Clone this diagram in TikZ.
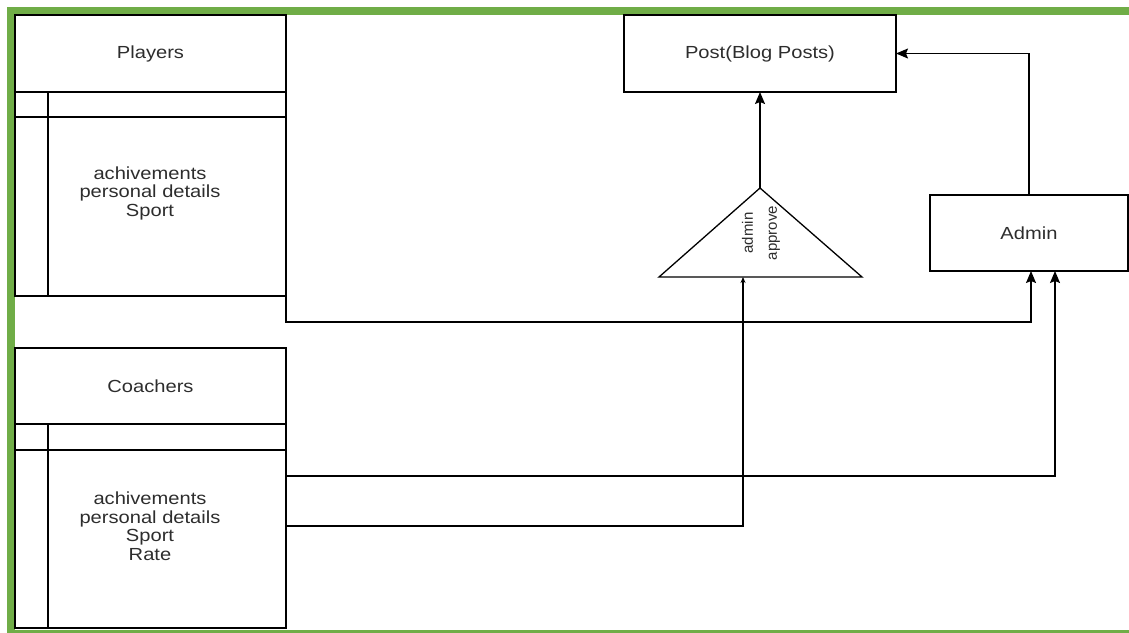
\documentclass[tikz,border=0pt]{standalone}
\usepackage{fontspec}
\setmainfont[FakeStretch=1.15]{Liberation Sans}
\newfontfamily\plainsans{Liberation Sans}
\usepackage{xcolor}
\usetikzlibrary{arrows.meta}
\usetikzlibrary{positioning}
\definecolor{frameGreen}{RGB}{112,173,71}
\definecolor{inkGray}{RGB}{45,45,45}
\tikzset{
    box/.style = {rectangle, draw=black, line width=1.3pt, anchor=north west, inner sep=0pt, outer sep=0pt, font=\fontsize{17.5}{18.5}\selectfont, text=inkGray},
    fields/.style = {align=center, inner sep=0pt, font=\fontsize{17.5}{18.5}\selectfont, text=inkGray},
    link/.style = {draw=black, line width=1.3pt, -{Stealth[length=12pt,width=10pt,inset=2pt]}},
    linksmall/.style = {draw=black, line width=1.3pt, -{Stealth[length=6pt,width=5pt]}},
}

\begin{document}
\begin{tikzpicture}[x=1pt, y=-1pt]
  \useasboundingbox (0,0) rectangle (1129,632);
  % green frame
  \draw[frameGreen, line width=8pt] (1140,11) -- (11,11) -- (11,640);
  \draw[frameGreen, line width=8pt] (11,634) -- (1140,634);

  % Players table
  \node[box, minimum width=271pt, minimum height=77pt] (plHead) at (15,15) {Players};
  \node[box, minimum width=271pt, minimum height=25pt, below right=0pt and 0pt of plHead.south west] (plKey) {};
  \node[box, minimum width=271pt, minimum height=179pt, below right=0pt and 0pt of plKey.south west] (plBody) {};
  \draw[line width=1.3pt] ([xshift=33pt]plKey.north west) -- ([xshift=33pt]plBody.south west);
  \node[fields] (plText) at (150,193) {achivements\\personal details\\Sport};

  % Coachers table
  \node[box, minimum width=271pt, minimum height=76pt] (chHead) at (15,348) {Coachers};
  \node[box, minimum width=271pt, minimum height=26pt, below right=0pt and 0pt of chHead.south west] (chKey) {};
  \node[box, minimum width=271pt, minimum height=178pt, below right=0pt and 0pt of chKey.south west] (chBody) {};
  \draw[line width=1.3pt] ([xshift=33pt]chKey.north west) -- ([xshift=33pt]chBody.south west);
  \node[fields] (chText) at (150,526) {achivements\\personal details\\Sport\\Rate};

  % posts and admin
  \node[box, minimum width=272pt, minimum height=77pt] (pbPost) at (624,15) {Post(Blog Posts)};
  \node[box, minimum width=198pt, minimum height=76pt] (adAdmin) at (930,195) {Admin};

  % approval triangle
  \draw[line width=1.3pt] (760,188) coordinate (apexPt) -- (862,277) -- (659,277) -- cycle;
  \coordinate (apBase) at (743,277);
  \node[rotate=90, align=center, inner sep=0pt, text=inkGray,
        font=\plainsans\fontsize{15}{24}\selectfont] (apText) at (761,233) {admin\\approve};

  % connectors
  \draw[link] (apexPt) -- (pbPost.south);
  \draw[link] (adAdmin.north) |- (pbPost.east);
  \draw[link] (plBody.south east) -- ++(0,26) -| ([xshift=2pt]adAdmin.south);
  \draw[link] ([yshift=-26pt]chBody.north east) -| ([xshift=26pt]adAdmin.south);
  \draw[linksmall] ([yshift=-76pt]chBody.north east) -| (apBase);
\end{tikzpicture}
\end{document}
